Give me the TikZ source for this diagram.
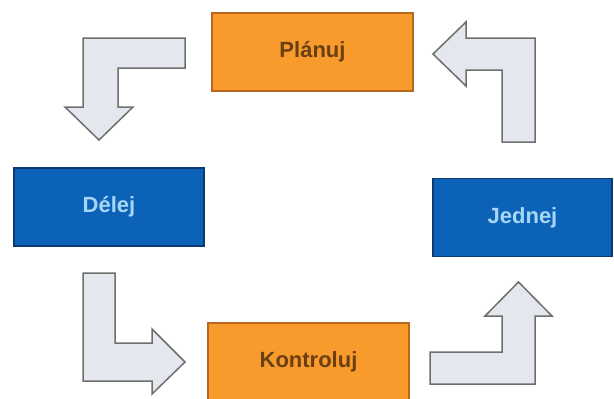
\documentclass[tikz,border=0pt]{standalone}
\usepackage{fontspec}
\setmainfont{Liberation Sans}
\usepackage{xcolor}
\usepackage{tikz}
\usetikzlibrary{positioning}

\definecolor{oranzova}{HTML}{F99B2C}
\definecolor{oranzovaokraj}{HTML}{B8671E}
\definecolor{oranzovatext}{HTML}{6A3F12}
\definecolor{modra}{HTML}{0B62B6}
\definecolor{modraokraj}{HTML}{0A3A70}
\definecolor{modratext}{HTML}{A6D6F6}
\definecolor{sipka}{HTML}{E5E7EE}
\definecolor{sipkaokraj}{HTML}{6E6E6E}

\begin{document}
\begin{tikzpicture}[x=1pt, y=-1pt, font=\bfseries\fontsize{22}{26}\selectfont]
        % Styly pro uzly a sipky
        \tikzstyle{orangebox} = [rectangle, minimum height=78pt, text centered, draw=oranzovaokraj, line width=1.2pt, fill=oranzova, text=oranzovatext]
        \tikzstyle{bluebox} = [rectangle, minimum height=78pt, text centered, draw=modraokraj, line width=1.2pt, fill=modra, text=modratext]
        \tikzstyle{blockarrow} = [draw=sipkaokraj, line width=1.5pt, fill=sipka, line join=miter]

        \useasboundingbox (0,0) rectangle (614,399);

        % Uzly
        \node (planuj) [orangebox, minimum width=201pt] at (312.5,52) {Plánuj};
        \node (delej) [bluebox, minimum width=190pt] at (109,207) {Délej};
        \node (jednej) [bluebox, minimum width=179pt] at (522.5,217.5) {Jednej};
        \node (kontroluj) [orangebox, minimum width=201pt] at (308.5,362) {Kontroluj};

        % Sipky
        \draw [blockarrow] (185,38) -- (83,38) -- (83,107) -- (65,107) -- (99,140) -- (133,107) -- (118,107) -- (118,68) -- (185,68) -- cycle;
        \draw [blockarrow] (83,273) -- (115,273) -- (115,343) -- (152,343) -- (152,329) -- (185,362) -- (152,394) -- (152,381) -- (83,381) -- cycle;
        \draw [blockarrow] (430,352) -- (502,352) -- (502,316) -- (485,316) -- (518.5,282) -- (552,316) -- (535,316) -- (535,384) -- (430,384) -- cycle;
        \draw [blockarrow] (502,142) -- (535,142) -- (535,38) -- (466,38) -- (466,22) -- (433,54) -- (466,86) -- (466,70) -- (502,70) -- cycle;
\end{tikzpicture}
\end{document}
